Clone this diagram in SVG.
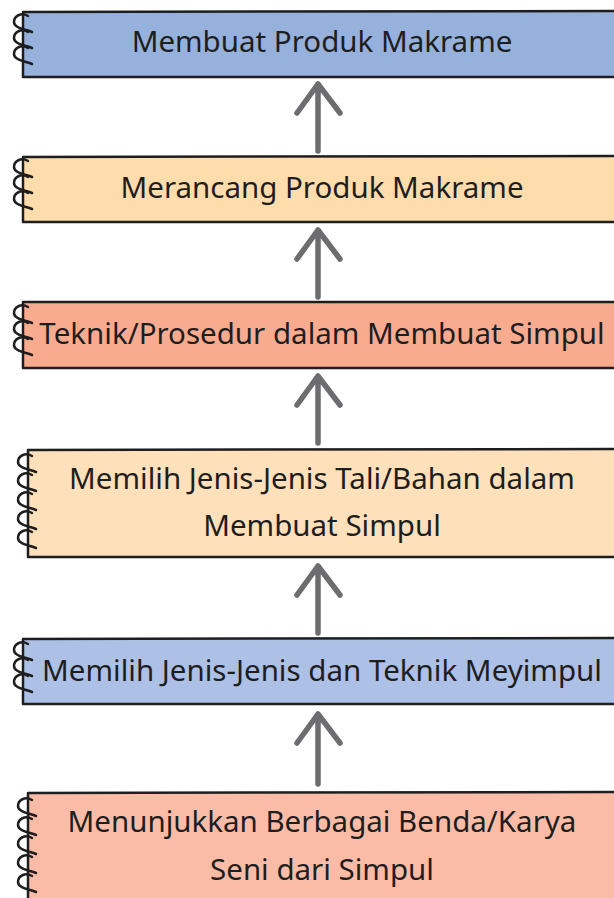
<svg xmlns="http://www.w3.org/2000/svg" width="614" height="898" viewBox="0 0 614 898">
  <defs>
    <style>
      .box { stroke: #1e1e1e; stroke-width: 2.5; stroke-linejoin: round; }
      .ring { fill: none; stroke: #1e1e1e; stroke-width: 2.5; stroke-linecap: round; }
      .label { font-family: "Noto Sans", "Open Sans", sans-serif; font-size: 29.5px; fill: #1e1e1e; text-anchor: middle; }
      .arrow { fill: none; stroke: #6d6d70; stroke-width: 5.5; stroke-linecap: round; stroke-linejoin: round; }
    </style>
    <!-- one spiral binding loop -->
    <path id="loop" class="ring" d="M28 1 C21 -3 14 1 14 7 C14 13 24 14 32 17"/>
  </defs>

  <g id="connectors">
    <path class="arrow" d="M318 151 L318 84 M297 113 L318 84 L340 113"/>
    <path class="arrow" d="M318 297 L318 230 M297 259 L318 230 L340 259"/>
    <path class="arrow" d="M318 443 L318 376 M297 405 L318 376 L340 405"/>
    <path class="arrow" d="M318 633 L318 566 M297 595 L318 566 L340 595"/>
    <path class="arrow" d="M318 784 L318 714 M297 743 L318 714 L340 743"/>
  </g>

  <g id="node-membuat">
    <path class="box" fill="#97b1dd" d="M23 12 L620 11 L620 77 L23 77 Z"/>
    <use href="#loop" y="15"/><use href="#loop" y="31"/><use href="#loop" y="47"/>
    <text class="label" x="322" y="52">Membuat Produk Makrame</text>
  </g>

  <g id="node-merancang">
    <path class="box" fill="#fedcab" d="M23 157 L620 156 L620 222 L23 222 Z"/>
    <use href="#loop" y="160"/><use href="#loop" y="176"/><use href="#loop" y="192"/>
    <text class="label" x="322" y="198">Merancang Produk Makrame</text>
  </g>

  <g id="node-teknik">
    <path class="box" fill="#f9ab90" d="M23 302 L620 302 L620 368 L23 368 Z"/>
    <use href="#loop" y="306"/><use href="#loop" y="322"/><use href="#loop" y="338"/>
    <text class="label" x="322" y="344">Teknik/Prosedur dalam Membuat Simpul</text>
  </g>

  <g id="node-bahan">
    <path class="box" fill="#fee0bb" d="M28 450 L620 449 L620 557 L28 557 Z"/>
    <use href="#loop" x="4" y="455"/><use href="#loop" x="4" y="474"/><use href="#loop" x="4" y="493"/><use href="#loop" x="4" y="512"/><use href="#loop" x="4" y="531"/>
    <text class="label" x="322" y="489">Memilih Jenis-Jenis Tali/Bahan dalam</text>
    <text class="label" x="322" y="536">Membuat Simpul</text>
  </g>

  <g id="node-simpul">
    <path class="box" fill="#adc0e6" d="M23 639 L620 638 L620 704 L23 704 Z"/>
    <use href="#loop" y="643"/><use href="#loop" y="659"/><use href="#loop" y="675"/>
    <text class="label" x="322" y="681">Memilih Jenis-Jenis dan Teknik Meyimpul</text>
  </g>

  <g id="node-karya">
    <path class="box" fill="#fabca6" d="M28 793 L620 792 L620 910 L28 910 Z"/>
    <use href="#loop" x="4" y="799"/><use href="#loop" x="4" y="818"/><use href="#loop" x="4" y="837"/><use href="#loop" x="4" y="856"/><use href="#loop" x="4" y="875"/>
    <text class="label" x="322" y="832">Menunjukkan Berbagai Benda/Karya</text>
    <text class="label" x="322" y="880">Seni dari Simpul</text>
  </g>
</svg>
